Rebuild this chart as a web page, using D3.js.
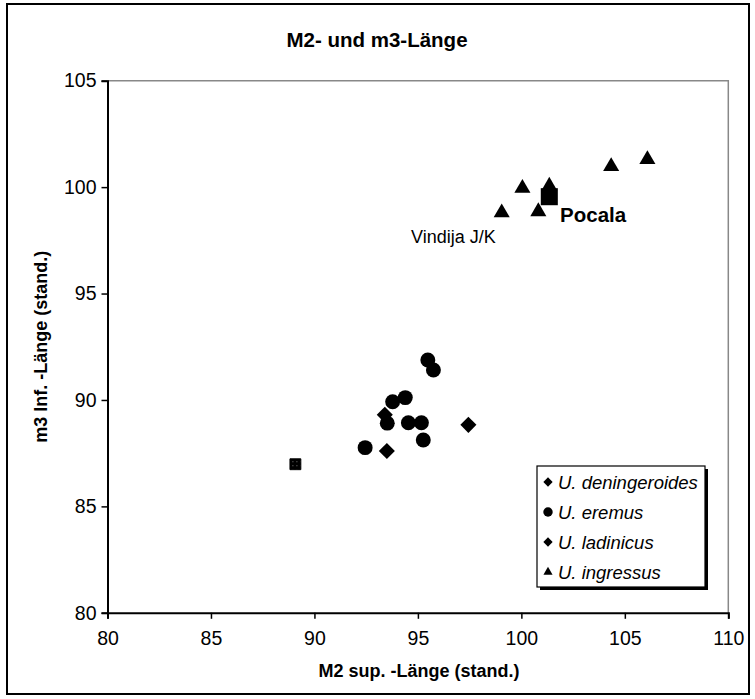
<!DOCTYPE html>
<html><head><meta charset="utf-8">
<script src="https://cdn.jsdelivr.net/npm/d3@7"></script>
<style>
html,body{margin:0;padding:0;background:#fff;}
svg text{font-family:"Liberation Sans",Arial,sans-serif;}
</style></head>
<body>
<svg id="chart" width="755" height="699"></svg>
<script>
// ---- data ----
const title = "M2- und m3-Länge";
const xLabel = "M2 sup. -Länge (stand.)";
const yLabel = "m3 Inf. -Länge (stand.)";
const xTicks = [80, 85, 90, 95, 100, 105, 110];
const yTicks = [80, 85, 90, 95, 100, 105];
const deningeroides = [[93.4, 89.3], [93.5, 87.6]];
const eremus = [[92.45, 87.76], [93.52, 88.91], [93.78, 89.92], [94.39, 90.11], [94.54, 88.93], [95.17, 88.93], [95.26, 88.12], [95.48, 91.88], [95.75, 91.41]];
const ladinicus = [[97.44, 88.83]];
const ingressus = [[99.05, 98.8], [100.05, 99.95], [100.82, 98.85], [101.35, 100.05], [104.34, 100.97], [106.09, 101.3]];
const pocala = [[101.35, 99.55]];
const other = [[89.08, 86.98]];
const annotations = [{text: "Pocala", x: 101.87, y: 98.36, bold: true}, {text: "Vindija J/K", x: 94.67, y: 97.38, bold: false}];
const legendNames = ["U. deningeroides", "U. eremus", "U. ladinicus", "U. ingressus"];
const legendShapes = ["diamond", "circle", "diamond", "triangle"];

// ---- chart ----
const svg = d3.select("#chart");
const L = 107.5, R = 728.3, T = 80.7, B = 612.8;
const x = d3.scaleLinear().domain([80, 110]).range([L, R]);
const y = d3.scaleLinear().domain([80, 105]).range([B, T]);

// outer frame
svg.append("rect").attr("x", 7).attr("y", 4).attr("width", 742).attr("height", 690)
  .attr("fill", "none").attr("stroke", "#000").attr("stroke-width", 2);

// plot border (grey top/right)
svg.append("path").attr("d", `M${L},${T}H${R}V${B}`).attr("fill", "none")
  .attr("stroke", "#888").attr("stroke-width", 1.5);

// axes
const gx = svg.append("g").attr("transform", `translate(0,${B})`)
  .call(d3.axisBottom(x).tickValues(xTicks).tickSize(6).tickPadding(12).tickFormat(d3.format("d")));
const gy = svg.append("g").attr("transform", `translate(${L},0)`)
  .call(d3.axisLeft(y).tickValues(yTicks).tickSize(6).tickPadding(5).tickFormat(d3.format("d")));
[gx, gy].forEach(g => {
  g.select(".domain").attr("stroke", "#000").attr("stroke-width", 2);
  g.selectAll(".tick line").attr("stroke", "#000").attr("stroke-width", 1.5);
  g.selectAll(".tick text").attr("font-size", 19.5).attr("fill", "#000")
    .style("font-family", '"Liberation Sans",Arial,sans-serif');
});

// titles
svg.append("text").attr("x", 377).attr("y", 47).attr("text-anchor", "middle")
  .attr("font-size", 20.5).attr("font-weight", "bold").text(title);
svg.append("text").attr("x", 419).attr("y", 677).attr("text-anchor", "middle")
  .attr("font-size", 18).attr("font-weight", "bold").text(xLabel);
svg.append("text").attr("transform", `translate(47,${(T + B) / 2}) rotate(-90)`).attr("text-anchor", "middle")
  .attr("font-size", 18).attr("font-weight", "bold").text(yLabel);

// markers
function shapePath(shape, s) {
  if (shape === "diamond") return d3.symbol().type(d3.symbolDiamond2).size(s)();
  if (shape === "triangle") return d3.symbol().type(d3.symbolTriangle2).size(s)();
  if (shape === "square") return d3.symbol().type(d3.symbolSquare2).size(s)();
  return d3.symbol().type(d3.symbolCircle).size(s)();
}
function drawSeries(data, shape, size) {
  svg.append("g").selectAll("path").data(data).join("path")
    .attr("transform", d => `translate(${x(d[0])},${y(d[1])})`)
    .attr("d", shapePath(shape, size)).attr("fill", "#000");
}
drawSeries(deningeroides, "diamond", 165);
drawSeries(eremus, "circle", 175);
drawSeries(ladinicus, "diamond", 165);
drawSeries(ingressus, "triangle", 185);
drawSeries(pocala, "square", 370);

// special square with speckle
const defs = svg.append("defs");
const pat = defs.append("pattern").attr("id", "speck").attr("width", 4).attr("height", 4)
  .attr("patternUnits", "userSpaceOnUse");
pat.append("rect").attr("width", 4).attr("height", 4).attr("fill", "#000");
pat.append("rect").attr("x", 1).attr("y", 1).attr("width", 1).attr("height", 1).attr("fill", "#777");
svg.append("g").selectAll("path").data(other).join("path")
  .attr("transform", d => `translate(${x(d[0])},${y(d[1])})`)
  .attr("d", shapePath("square", 150)).attr("fill", "url(#speck)").attr("stroke", "#000").attr("stroke-width", 1);

// annotations
annotations.forEach(a => {
  svg.append("text").attr("x", x(a.x)).attr("y", y(a.y)).attr("font-size", a.bold ? 20.5 : 18)
    .attr("font-weight", a.bold ? "bold" : "normal").text(a.text);
});

// legend
const lgX = 537, lgY = 466, lgW = 168, lgH = 121;
svg.append("rect").attr("x", lgX + 3).attr("y", lgY + 3).attr("width", lgW).attr("height", lgH).attr("fill", "#000");
svg.append("rect").attr("x", lgX).attr("y", lgY).attr("width", lgW).attr("height", lgH)
  .attr("fill", "#fff").attr("stroke", "#000").attr("stroke-width", 1.2);
const legendSizes = {diamond: 55, circle: 70, triangle: 60};
legendNames.forEach((n, i) => {
  const cy = lgY + 16 + i * 30;
  svg.append("path").attr("transform", `translate(${lgX + 11},${cy})`)
    .attr("d", shapePath(legendShapes[i], legendSizes[legendShapes[i]])).attr("fill", "#000");
  svg.append("text").attr("x", lgX + 21).attr("y", cy + 6.5).attr("font-size", 18.5)
    .attr("font-style", "italic").text(n);
});
</script>
</body></html>
